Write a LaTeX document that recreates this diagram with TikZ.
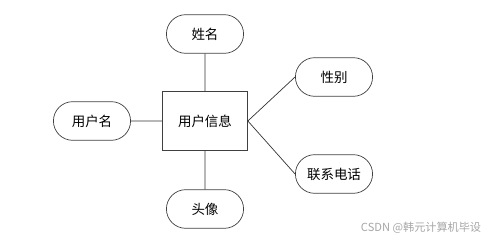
\documentclass[tikz,border=0pt]{standalone}
\usepackage{fontspec}
\newfontfamily\cjk{Noto Sans CJK SC}
\usetikzlibrary{shapes.misc}

\begin{document}
\begin{tikzpicture}[
    attr/.style={rounded rectangle, draw=black!75, line width=0.6pt, minimum width=2.55cm,
                minimum height=1.16cm, align=center, font=\cjk\fontsize{11.5}{13}\selectfont},
    entity/.style={rectangle, draw=black!75, line width=0.6pt, minimum width=2.55cm,
                minimum height=1.77cm, align=center, font=\cjk\fontsize{11.5}{13}\selectfont},
    line/.style={draw=black!80, line width=0.6pt},
  ]
  \useasboundingbox (0,0) rectangle (15,7.2);

  \node[entity] (info) at (6.15, 3.57) {用户信息};

  \node[attr] (name)   at (6.15, 6.18) {姓名};
  \node[attr] (avatar) at (6.15, 0.93) {头像};
  \node[attr] (user)   at (2.76, 3.57) {用户名};
  \node[attr] (gender) at (10.02, 4.89) {性别};
  \node[attr] (phone)  at (10.02, 1.98) {联系电话};

  % attributes of the entity
  \draw[line] (info) -- (name);
  \draw[line] (info) -- (avatar);
  \draw[line] (info) -- (user);
  \draw[line] (info.east) -- (gender.west);
  \draw[line] (info.east) -- (phone.west);

  \node[text=black!35, font=\cjk\fontsize{9.5}{10}\selectfont] (mark) at (12.63, 0.36) {CSDN @韩元计算机毕设};

\end{tikzpicture}
\end{document}
